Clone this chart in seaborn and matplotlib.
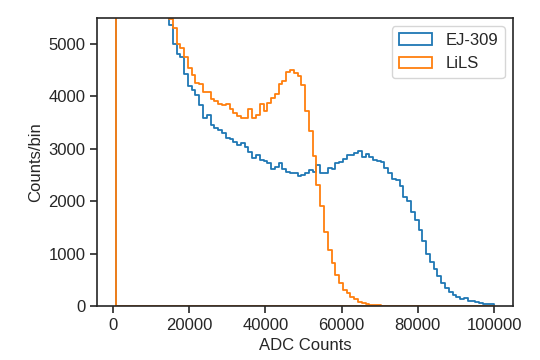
import numpy as np
import matplotlib
matplotlib.use("Agg")
import matplotlib.pyplot as plt
import seaborn as sns

# ── Binning (100 bins, ~990 ADC wide) ────────────────────────────────────────
bin_lo, bin_hi, n_bins = 850, 100000, 100

# ── Counts per bin ───────────────────────────────────────────────────────────
ej309_counts = [
    30000, 21000, 16500, 13500, 11500, 10200, 9200, 8400, 7800, 7200,
    6700, 6300, 5950, 5650, 5350, 5000, 4810, 4750, 4430, 4190,
    4110, 4020, 3830, 3580, 3640, 3450, 3390, 3350, 3300, 3200,
    3190, 3130, 3070, 3100, 3040, 2940, 2830, 2870, 2780, 2760,
    2720, 2620, 2650, 2720, 2620, 2560, 2530, 2530, 2480, 2500,
    2540, 2590, 2560, 2680, 2530, 2540, 2640, 2620, 2720, 2750,
    2810, 2870, 2880, 2920, 2950, 2840, 2900, 2840, 2790, 2770,
    2740, 2630, 2530, 2420, 2400, 2280, 2080, 2000, 1800, 1630,
    1450, 1230, 1000, 845, 700, 580, 440, 340, 275, 210,
    180, 130, 145, 100, 90, 70, 55, 40, 32, 30,
]
lils_counts = [
    80000, 20000, 15000, 12000, 10500, 9300, 8400, 7700, 7100, 6600,
    6250, 5950, 5750, 5600, 5470, 5290, 4990, 4910, 4750, 4530,
    4400, 4250, 4240, 4080, 4080, 3950, 3910, 3860, 3830, 3860,
    3760, 3670, 3630, 3590, 3580, 3750, 3590, 3650, 3860, 3720,
    3870, 3970, 4050, 4240, 4290, 4460, 4500, 4440, 4380, 4210,
    3720, 3330, 2850, 2300, 1900, 1420, 1075, 825, 590, 430,
    305, 240, 178, 127, 85, 55, 35, 22, 15, 10,
    6, 4, 3, 2, 1, 1, 0, 0, 0, 0,
    0, 0, 0, 0, 0, 0, 0, 0, 0, 0,
    0, 0, 0, 0, 0, 0, 0, 0, 0, 0,
]
series_names = ["EJ-309", "LiLS"]

edges = np.linspace(bin_lo, bin_hi, n_bins + 1)
centers = 0.5 * (edges[:-1] + edges[1:])

sns.set_style("ticks")
plt.rcParams["font.family"] = ["Liberation Sans", "DejaVu Sans"]
plt.rcParams.update({
    "font.size": 12,
    "axes.linewidth": 1.2,
    "xtick.major.size": 5,
    "ytick.major.size": 5,
    "xtick.major.width": 1.2,
    "ytick.major.width": 1.2,
})

fig = plt.figure(figsize=(5.4, 3.6), dpi=100)
ax = fig.add_axes([0.18, 0.15, 0.77, 0.80])

for name, counts, col in zip(series_names, [ej309_counts, lils_counts],
                             ["#1f77b4", "#ff7f0e"]):
    sns.histplot(x=centers, weights=counts, bins=edges.tolist(), element="step",
                 fill=True, color=col, facecolor="none", edgecolor=col,
                 linewidth=1.3, label=name, ax=ax)

ax.set_ylim(0, 5490)
ax.set_xlabel("ADC Counts", fontsize=12)
ax.set_ylabel("Counts/bin", fontsize=12)
ax.tick_params(labelsize=12)
ax.legend(loc="upper right", fontsize=12)

fig.savefig("out.png", dpi=100)
